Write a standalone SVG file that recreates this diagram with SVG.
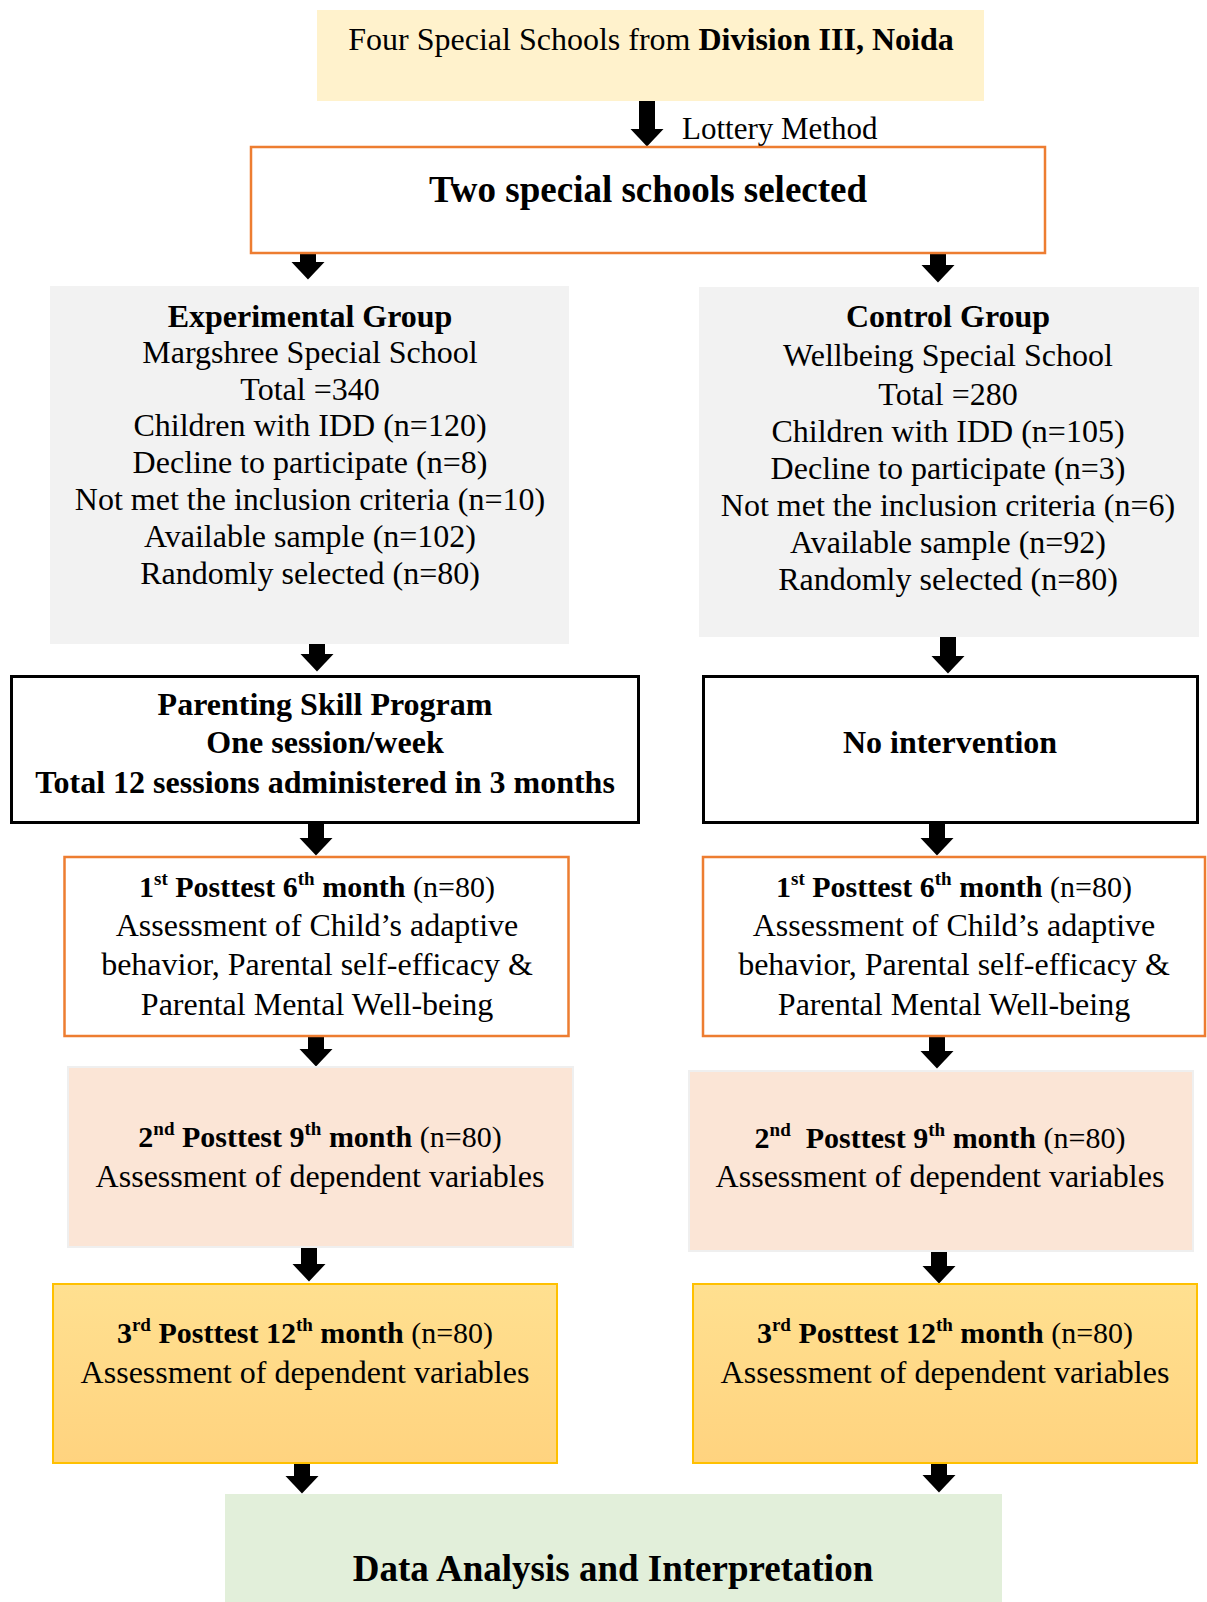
<svg xmlns="http://www.w3.org/2000/svg" width="1207" height="1602" viewBox="0 0 1207 1602">
<defs>
<linearGradient id="gold" x1="0" y1="0" x2="0" y2="1">
<stop offset="0" stop-color="#FFE090"/>
<stop offset="1" stop-color="#FFD37F"/>
</linearGradient>
<marker id="head" viewBox="0 0 18 34" markerWidth="18" markerHeight="34" markerUnits="userSpaceOnUse" refX="0.5" refY="17" orient="auto">
<path d="M0,0 L18,17 L0,34 Z" fill="#000"/>
</marker>
<style>
text{font-family:"Liberation Serif","Times New Roman",serif;fill:#000;}
.t{font-size:32px;text-anchor:middle;}
.h{font-size:30px;text-anchor:middle;}
.big{font-size:37px;font-weight:bold;text-anchor:middle;}
.b{font-weight:bold;}
.sup{font-size:19px;font-weight:bold;}
.conn line{stroke:#000;stroke-width:16;marker-end:url(#head);}
.orange{fill:#fff;stroke:#ED7D31;stroke-width:2.5;}
.gray{fill:#F2F2F2;}
.black{fill:#fff;stroke:#000;stroke-width:3;}
.peach{fill:#FBE5D6;stroke:#EFEFEF;stroke-width:2;}
.goldbox{fill:url(#gold);stroke:#FFC000;stroke-width:2;}
</style>
</defs>
<rect width="1207" height="1602" fill="#fff"/>

<g id="connectors" class="conn">
<line x1="647" y1="98" x2="647" y2="129"/>
<line x1="308" y1="248" x2="308" y2="262"/>
<line x1="938" y1="252" x2="938" y2="265"/>
<line x1="317" y1="639" x2="317" y2="654"/>
<line x1="948" y1="631" x2="948" y2="656"/>
<line x1="316" y1="823" x2="316" y2="838"/>
<line x1="937" y1="824" x2="937" y2="838"/>
<line x1="316" y1="1035" x2="316" y2="1049"/>
<line x1="937" y1="1036" x2="937" y2="1051"/>
<line x1="309" y1="1247" x2="309" y2="1264"/>
<line x1="939" y1="1249" x2="939" y2="1266"/>
<line x1="302" y1="1461" x2="302" y2="1476"/>
<line x1="939" y1="1460" x2="939" y2="1475"/>
</g>

<g id="n-four-schools">
<rect x="317" y="10" width="667" height="91" fill="#FFF2CC"/>
<text class="t" x="651" y="50">Four Special Schools from <tspan class="b">Division III, Noida</tspan></text>
</g>

<g id="lbl-lottery">
<text x="682" y="139" font-size="31">Lottery Method</text>
</g>

<g id="n-two-schools">
<rect class="orange" x="251" y="147" width="794" height="106"/>
<text class="big" x="648" y="202">Two special schools selected</text>
</g>

<g id="n-experimental">
<rect class="gray" x="50" y="286" width="519" height="358"/>
<text class="t b" x="310" y="327">Experimental Group</text>
<text class="t" x="310" y="363">Margshree Special School</text>
<text class="t" x="310" y="400">Total =340</text>
<text class="t" x="310" y="436">Children with IDD (n=120)</text>
<text class="t" x="310" y="473">Decline to participate (n=8)</text>
<text class="t" x="310" y="510">Not met the inclusion criteria (n=10)</text>
<text class="t" x="310" y="547">Available sample (n=102)</text>
<text class="t" x="310" y="584">Randomly selected (n=80)</text>
</g>

<g id="n-control">
<rect class="gray" x="699" y="287" width="500" height="350"/>
<text class="t b" x="948" y="327">Control Group</text>
<text class="t" x="948" y="366">Wellbeing Special School</text>
<text class="t" x="948" y="405">Total =280</text>
<text class="t" x="948" y="442">Children with IDD (n=105)</text>
<text class="t" x="948" y="479">Decline to participate (n=3)</text>
<text class="t" x="948" y="516">Not met the inclusion criteria (n=6)</text>
<text class="t" x="948" y="553">Available sample (n=92)</text>
<text class="t" x="948" y="590">Randomly selected (n=80)</text>
</g>

<g id="n-parenting">
<rect class="black" x="11.5" y="676.5" width="627" height="146"/>
<text class="t b" x="325" y="715">Parenting Skill Program</text>
<text class="t b" x="325" y="753">One session/week</text>
<text class="t b" x="325" y="793">Total 12 sessions administered in 3 months</text>
</g>

<g id="n-no-intervention">
<rect class="black" x="703.5" y="676.5" width="494" height="146"/>
<text class="t b" x="950" y="753">No intervention</text>
</g>

<g id="n-post1-exp">
<rect class="orange" x="64.5" y="857" width="504" height="179"/>
<text class="h" x="317" y="897"><tspan class="b">1</tspan><tspan class="sup" dy="-12">st</tspan><tspan class="b" dy="12"> Posttest 6</tspan><tspan class="sup" dy="-12">th</tspan><tspan class="b" dy="12"> month</tspan> (n=80)</text>
<text class="t" x="317" y="936">Assessment of Child’s adaptive</text>
<text class="t" x="317" y="975">behavior, Parental self-efficacy &amp;</text>
<text class="t" x="317" y="1015">Parental Mental Well-being</text>
</g>

<g id="n-post1-ctrl">
<rect class="orange" x="703" y="857" width="502" height="179"/>
<text class="h" x="954" y="897"><tspan class="b">1</tspan><tspan class="sup" dy="-12">st</tspan><tspan class="b" dy="12"> Posttest 6</tspan><tspan class="sup" dy="-12">th</tspan><tspan class="b" dy="12"> month</tspan> (n=80)</text>
<text class="t" x="954" y="936">Assessment of Child’s adaptive</text>
<text class="t" x="954" y="975">behavior, Parental self-efficacy &amp;</text>
<text class="t" x="954" y="1015">Parental Mental Well-being</text>
</g>

<g id="n-post2-exp">
<rect class="peach" x="68" y="1067" width="505" height="180"/>
<text class="h" x="320" y="1147"><tspan class="b">2</tspan><tspan class="sup" dy="-12">nd</tspan><tspan class="b" dy="12"> Posttest 9</tspan><tspan class="sup" dy="-12">th</tspan><tspan class="b" dy="12"> month</tspan> (n=80)</text>
<text class="t" x="320" y="1187">Assessment of dependent variables</text>
</g>

<g id="n-post2-ctrl">
<rect class="peach" x="689" y="1071" width="504" height="180"/>
<text class="h" x="940" y="1148"><tspan class="b">2</tspan><tspan class="sup" dy="-12">nd</tspan><tspan class="b" dy="12">&#160; Posttest 9</tspan><tspan class="sup" dy="-12">th</tspan><tspan class="b" dy="12"> month</tspan> (n=80)</text>
<text class="t" x="940" y="1187">Assessment of dependent variables</text>
</g>

<g id="n-post3-exp">
<rect class="goldbox" x="53" y="1284" width="504" height="179"/>
<text class="h" x="305" y="1343"><tspan class="b">3</tspan><tspan class="sup" dy="-12">rd</tspan><tspan class="b" dy="12"> Posttest 12</tspan><tspan class="sup" dy="-12">th</tspan><tspan class="b" dy="12"> month</tspan> (n=80)</text>
<text class="t" x="305" y="1383">Assessment of dependent variables</text>
</g>

<g id="n-post3-ctrl">
<rect class="goldbox" x="693" y="1284" width="504" height="179"/>
<text class="h" x="945" y="1343"><tspan class="b">3</tspan><tspan class="sup" dy="-12">rd</tspan><tspan class="b" dy="12"> Posttest 12</tspan><tspan class="sup" dy="-12">th</tspan><tspan class="b" dy="12"> month</tspan> (n=80)</text>
<text class="t" x="945" y="1383">Assessment of dependent variables</text>
</g>

<g id="n-data-analysis">
<rect x="225" y="1494" width="777" height="108" fill="#E2EFDA"/>
<text class="big" x="613" y="1581">Data Analysis and Interpretation</text>
</g>
</svg>
